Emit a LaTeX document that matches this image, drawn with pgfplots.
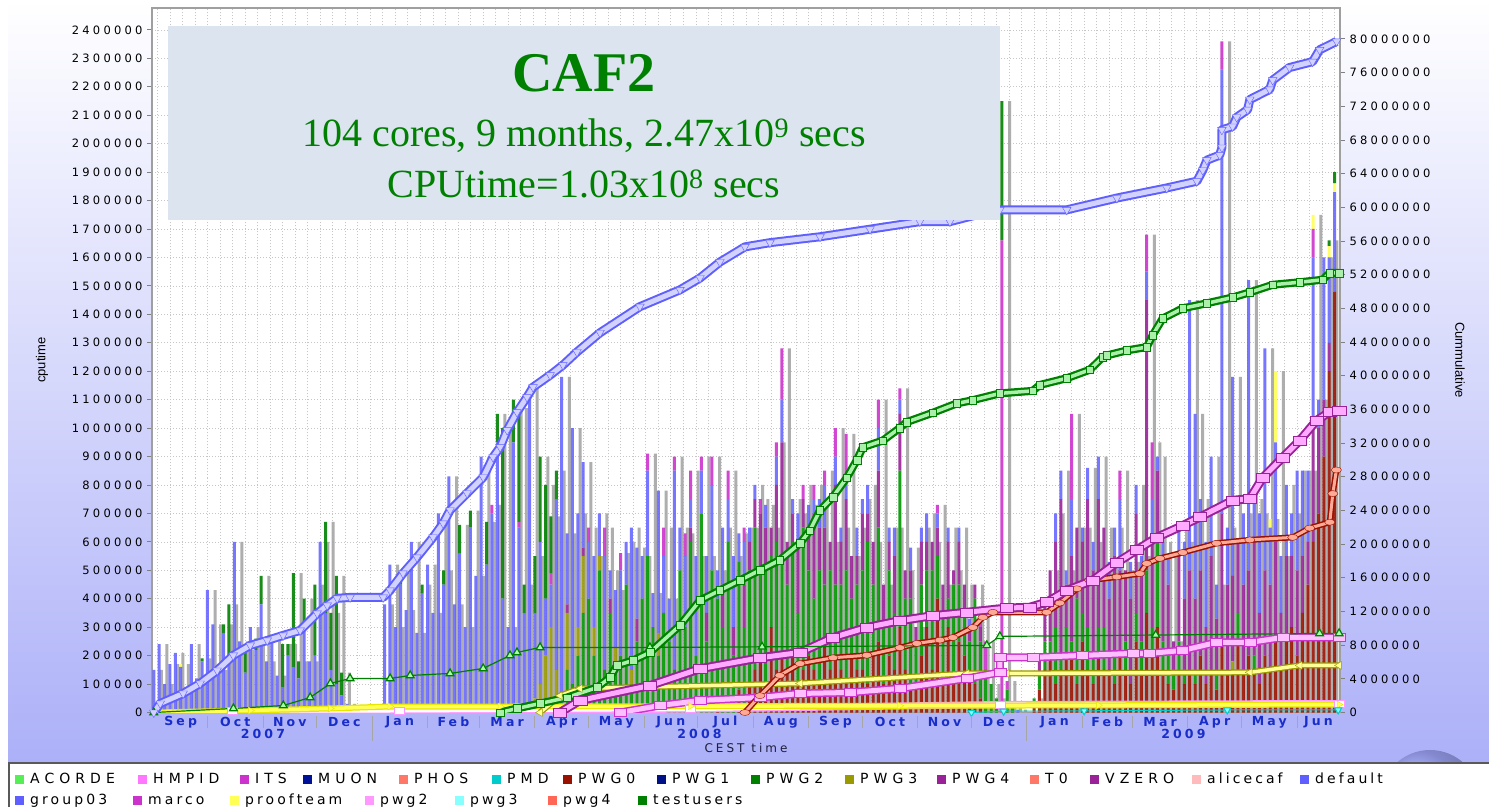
\documentclass[border=0pt]{standalone}
\usepackage{fontspec}
\setmainfont{DejaVu Sans}
\usepackage{pgfplots}
\usepackage{pgfplotstable}
\pgfplotsset{compat=1.18}
\newfontfamily\tickf[LetterSpace=28]{DejaVu Sans}
\newfontfamily\monthf[LetterSpace=25]{DejaVu Sans}
\newfontfamily\legfC[LetterSpace=36]{DejaVu Sans}
\newfontfamily\legfL[LetterSpace=22]{DejaVu Sans}
\newfontfamily\labf{Liberation Sans}
\newfontfamily\boxf{Liberation Serif}

\definecolor{cB}{RGB}{95,95,255}
\definecolor{cR}{RGB}{153,17,0}
\definecolor{cG}{RGB}{0,150,0}
\definecolor{cT}{RGB}{0,128,0}
\definecolor{cO}{RGB}{153,153,0}
\definecolor{cP}{RGB}{153,34,153}
\definecolor{cM}{RGB}{204,51,204}
\definecolor{cY}{RGB}{255,255,85}
\definecolor{cYd}{RGB}{230,230,0}
\definecolor{cPink}{RGB}{255,153,255}
\definecolor{cACO}{RGB}{85,238,85}
\definecolor{cHMP}{RGB}{255,119,255}
\definecolor{cMUO}{RGB}{0,17,153}
\definecolor{cPHO}{RGB}{255,119,102}
\definecolor{cPMD}{RGB}{0,204,204}
\definecolor{cPW1}{RGB}{0,17,136}
\definecolor{cALI}{RGB}{255,187,187}
\definecolor{cCy}{RGB}{136,255,255}
\definecolor{cPw4}{RGB}{255,102,85}
\definecolor{mblue}{RGB}{25,45,200}
\definecolor{boxc}{RGB}{220,228,240}
\definecolor{tgreen}{RGB}{0,128,0}
\definecolor{fB}{RGB}{210,210,255}
\definecolor{fG}{RGB}{170,240,170}
\definecolor{fT}{RGB}{170,255,170}
\definecolor{fP}{RGB}{255,170,255}
\definecolor{fM}{RGB}{255,190,255}
\definecolor{fR}{RGB}{255,170,150}
\definecolor{fO}{RGB}{255,255,150}

% ribbon: outline colour, inner colour, outer width, inner width, table
\newcommand\ribbon[5]{%
  \addplot[draw=#1, line width=#3, line join=round, no marks] table {#5};
  \addplot[draw=#2, line width=#4, line join=round, no marks] table {#5};}

% bars: day since 1 Sep 2007, cputime in thousands of seconds
\pgfplotstableread{
d r g o p b m y t
0 0 0 0 0 150 0 0 0
3 0 0 0 0 240 0 0 0
6 0 0 0 0 100 0 0 0
9 0 0 0 0 170 0 0 0
12 0 0 0 0 210 0 0 0
15 0 0 0 0 160 0 10 0
18 0 0 0 0 90 0 0 0
21 0 0 0 0 240 0 0 0
24 0 0 0 0 120 0 0 0
27 0 0 0 0 180 0 0 10
30 0 0 0 0 430 0 0 0
33 0 0 0 0 310 0 0 0
36 0 0 0 0 150 0 0 0
39 0 0 0 0 280 0 0 30
42 0 0 0 0 200 0 0 180
45 0 0 0 0 600 0 0 0
48 0 0 0 0 250 0 0 0
51 0 0 0 0 140 0 0 80
54 0 0 0 0 300 0 0 0
57 0 0 0 0 220 0 0 40
60 0 0 0 0 380 0 0 100
63 0 0 0 0 180 0 0 0
66 0 0 0 0 250 0 0 20
69 0 0 0 0 130 0 0 0
72 0 0 0 0 90 0 0 150
75 0 0 0 0 200 0 0 40
78 0 0 0 0 160 0 0 330
81 0 0 0 0 120 0 0 60
84 0 0 0 0 300 0 0 100
87 0 0 0 0 180 0 0 0
90 0 0 0 0 200 0 0 250
93 0 0 0 0 600 0 0 0
96 0 0 0 0 350 0 0 320
99 0 0 0 0 150 0 0 200
102 0 0 0 0 100 0 0 380
105 0 0 0 0 60 0 0 80
108 0 0 0 0 30 0 0 0
111 0 0 0 0 10 0 0 0
114 0 0 0 0 0 0 0 0
117 0 0 0 0 0 0 0 0
120 0 0 0 0 0 0 0 0
123 0 0 0 0 0 0 0 0
126 0 0 0 0 20 0 0 0
129 0 0 0 0 380 0 0 0
132 0 0 0 0 520 0 0 0
135 0 0 0 0 300 0 0 0
138 0 0 0 0 450 0 0 40
141 0 0 0 0 360 0 0 0
144 0 0 0 0 600 0 0 0
147 0 0 0 0 280 0 0 0
150 0 0 0 0 420 0 0 30
153 0 0 0 0 520 0 0 0
156 0 0 0 0 350 0 0 0
159 0 0 0 0 700 0 0 0
162 0 0 0 0 450 0 0 50
165 0 0 0 0 830 0 0 0
168 0 0 0 0 380 0 0 0
171 0 0 0 0 560 0 0 100
174 0 0 0 0 300 0 0 0
177 0 0 0 0 650 0 0 60
180 0 0 0 0 480 0 0 0
183 0 0 0 0 900 0 0 0
186 0 0 0 0 520 0 0 150
189 0 0 0 0 700 30 0 0
192 0 0 0 0 950 0 0 100
195 0 0 0 0 400 0 0 600
198 0 0 0 0 300 0 0 0
201 0 0 0 0 950 0 0 150
204 0 0 0 0 650 20 0 400
207 0 0 0 0 350 0 0 100
210 0 0 0 0 1150 0 0 0
213 0 0 50 0 300 0 0 200
216 0 0 100 0 500 0 0 300
219 0 0 200 0 200 0 0 400
222 0 0 300 0 150 40 0 200
225 0 0 150 0 600 0 0 100
228 0 0 0 0 1180 0 0 0
231 0 150 200 30 250 0 0 0
234 0 100 0 0 900 0 0 0
237 0 200 100 0 400 0 0 0
240 0 350 200 30 300 0 0 0
243 0 400 0 0 200 50 0 0
246 0 200 100 0 250 0 0 0
249 0 500 50 0 150 0 0 0
252 0 150 0 0 400 100 0 0
255 0 350 0 50 100 0 0 0
258 0 150 80 0 200 0 0 0
261 0 200 0 0 300 60 0 0
264 0 450 0 0 150 0 0 0
267 0 100 50 0 500 0 0 0
270 0 250 0 80 250 0 0 0
273 0 400 0 0 150 0 0 0
276 0 550 0 0 300 60 0 0
279 0 300 0 0 120 0 0 0
282 0 200 80 0 500 0 0 0
285 0 350 0 0 200 100 0 0
288 0 250 0 0 150 0 0 0
291 0 150 0 0 700 50 0 0
294 0 500 0 0 150 0 0 0
297 0 300 0 0 250 80 0 0
300 0 600 0 50 100 100 0 0
303 0 200 0 0 350 0 0 0
306 0 700 0 0 150 50 0 0
309 0 250 0 100 200 0 0 0
312 0 500 0 0 300 100 0 0
315 50 350 0 0 100 0 0 0
318 0 300 0 150 200 0 0 0
321 0 600 0 0 150 100 0 0
324 0 200 0 100 250 0 0 0
327 80 450 0 0 100 0 0 0
330 0 300 0 150 150 50 0 0
333 100 400 0 100 50 0 0 0
336 150 500 0 100 50 0 0 0
339 200 300 0 200 0 50 0 0
342 100 400 0 150 80 0 0 0
345 300 250 0 100 0 0 0 0
348 150 450 0 200 100 50 0 0
351 200 350 0 400 150 180 0 0
354 150 300 0 150 0 0 0 0
357 200 400 0 100 50 0 0 0
360 100 250 0 250 100 0 0 0
363 150 500 0 100 0 50 0 0
366 200 300 0 150 80 0 0 0
369 150 250 0 300 50 50 0 0
372 100 400 0 150 100 0 0 0
375 250 200 0 200 150 50 0 0
378 150 350 0 100 0 0 0 0
381 200 250 0 350 100 100 0 0
384 150 300 0 150 50 0 0 0
387 100 400 0 250 80 150 0 0
390 200 200 0 150 0 0 0 0
393 150 300 0 100 100 0 0 0
396 150 350 0 200 50 0 0 0
399 100 500 0 100 100 0 0 0
402 200 250 0 150 0 0 0 0
405 250 400 0 200 150 100 0 0
408 100 200 0 150 0 0 0 0
411 200 300 0 100 50 0 0 0
414 150 200 0 200 100 0 0 0
417 300 550 0 200 50 40 0 0
420 150 250 0 100 0 0 0 0
423 100 300 0 100 80 0 0 0
426 100 150 0 50 0 0 0 0
429 200 250 0 150 50 0 0 0
432 300 200 0 100 100 0 0 0
435 150 350 0 100 0 0 0 0
438 400 150 0 100 50 30 0 0
441 100 250 0 100 0 0 0 0
444 300 100 0 200 50 0 0 0
447 100 350 0 50 0 0 0 0
450 250 200 0 150 50 0 0 0
453 200 150 0 100 0 0 0 0
456 150 100 0 50 30 0 0 0
459 100 300 0 50 0 0 0 0
462 50 200 0 50 0 50 0 0
465 0 150 0 0 0 100 0 0
468 0 100 0 0 0 0 0 0
471 0 50 0 0 0 0 0 0
474 0 0 0 0 0 1660 0 490
477 0 80 0 0 0 30 0 0
480 0 20 0 0 0 0 0 0
483 0 0 0 0 10 0 0 0
486 0 0 0 0 0 0 0 0
489 0 0 0 0 0 0 0 0
492 20 30 0 0 0 0 0 0
495 80 50 0 70 0 0 0 0
498 150 100 0 150 0 0 0 0
501 200 50 0 250 0 0 0 0
504 100 200 0 300 100 0 0 0
507 150 50 0 550 100 0 0 0
510 200 100 0 150 50 0 0 0
513 200 50 0 300 200 300 0 0
516 100 300 0 250 0 0 0 0
519 250 100 0 250 50 0 0 0
522 150 150 0 450 110 0 0 0
525 100 100 0 300 100 0 0 0
528 200 100 0 450 150 0 0 0
531 150 150 0 350 0 0 0 0
534 150 0 0 250 130 0 0 0
537 100 100 0 350 100 0 0 0
540 200 0 0 300 250 100 0 0
543 150 100 0 250 0 0 0 0
546 100 0 0 300 130 0 0 0
549 250 100 0 350 100 0 0 0
552 150 100 0 250 50 0 0 0
555 350 150 0 950 100 130 0 0
558 200 100 0 300 150 200 0 0
561 300 300 0 250 50 0 0 0
564 150 100 0 300 50 0 0 0
567 100 100 0 250 100 0 0 0
570 80 50 0 120 0 0 0 0
573 150 100 0 300 100 0 0 0
576 100 50 0 250 200 0 0 0
579 150 0 0 350 950 0 0 0
582 100 50 0 250 650 0 0 0
585 200 0 0 300 250 0 0 0
588 100 0 0 200 300 0 0 0
591 150 0 0 400 350 0 0 0
594 80 50 0 200 120 0 0 0
597 250 0 0 450 1560 100 0 0
600 150 0 0 300 200 0 0 0
603 150 0 30 300 700 0 0 0
606 250 100 0 250 0 0 0 0
609 150 0 0 300 250 0 0 0
612 200 0 0 300 1020 0 0 0
615 150 50 0 400 150 0 0 0
618 100 0 0 250 350 0 0 0
621 200 0 0 300 780 0 0 0
624 150 0 0 300 200 0 30 0
627 250 0 0 350 350 0 250 0
630 150 0 0 200 200 0 0 0
633 250 0 0 300 250 0 0 0
636 300 0 0 250 150 0 0 0
639 200 0 0 300 350 0 0 0
642 350 0 0 200 300 0 0 0
645 450 0 0 150 250 0 0 0
648 600 0 0 400 600 100 50 0
651 700 0 0 300 100 0 0 0
654 900 0 0 200 500 0 0 0
657 1200 0 0 100 300 0 40 20
660 1480 0 0 0 350 0 30 40
}\bars
\pgfplotstablecreatecol[expr={\thisrow{r}+\thisrow{g}+\thisrow{o}+\thisrow{p}+\thisrow{b}+\thisrow{m}+\thisrow{y}+\thisrow{t}}]{tot}\bars

% cumulative series: day, millions of seconds
\pgfplotstableread{
x y
0 0
3.6 1.07
16.4 2.26
25.9 3.45
35.4 4.99
44.4 6.78
53.9 7.97
63.4 8.56
72.3 9.16
81.8 9.75
91.3 11.77
96.9 12.72
102.5 13.56
109.7 13.67
128.2 13.67
132.1 14.51
139.3 16.53
147.1 18.43
156.1 20.81
161.7 22.47
165.6 24.02
175.1 26.04
184.1 27.94
189.6 30.32
193.6 31.51
197.5 33.53
203.0 35.67
208.6 37.46
212.0 38.64
221.5 40.07
228.7 41.26
236.5 42.81
249.4 45.1
271.7 48.2
294.1 50.2
305.3 51.6
316.4 53.5
330.4 55.3
344.4 55.8
372.4 56.5
400.3 57.4
428.2 58.3
445 58.3
467.2 59.5
472.9 59.7
510.3 59.7
538.3 61.1
566.2 62.3
583 63.1
586.3 64.4
588.6 65.6
595.8 66.2
597 67.1
597 69.2
603 69.6
605.3 70.7
611.4 71.6
612.6 72.8
623.7 74.0
625.4 75.1
634.8 76.6
647.7 77.3
651.6 78.7
661.1 79.7
}\cumB
\pgfplotstableread{
x y
193.6 0
203 0.48
215.9 1.07
231 1.78
247.8 2.97
255 4.16
258.9 5.59
267.8 6.18
277.3 7.13
294.1 10.34
305.3 13.32
316.4 14.5
327.6 15.7
338.8 16.9
349.9 18.1
361.2 20.1
366.7 21.6
372.3 24.0
379.6 25.6
387.4 27.9
393 30.0
396.3 31.5
407.5 32.3
417 33.8
420.9 34.5
435.4 35.6
448.8 36.7
457.8 37.1
472.9 37.9
491.3 38.2
495.2 38.9
510.3 39.7
523.1 40.7
530.4 42.2
532.6 42.4
543.8 43.0
555 43.4
558.3 44.8
563.9 46.8
575.1 48.0
588.6 48.6
603.1 49.3
612.6 49.9
625.4 50.8
640.5 51.1
653.3 51.4
657.3 52.2
662.5 52.2
}\cumG
\pgfplotstableread{
x y
0 0
44.5 0.48
72.4 0.83
87.4 1.78
98.7 3.45
109.7 4.04
132.1 4.04
143.3 4.40
165.6 4.64
184.1 5.23
199.1 6.78
203 7.13
215.9 7.73
277.3 7.73
340 7.8
465.6 7.97
472.9 9.04
560 9.2
651.6 9.39
662.5 9.39
}\cumT
\pgfplotstableread{
x y
227 0
238.2 1.43
277.3 3.2
305.3 5.2
338.8 6.5
361.2 7.13
379.6 8.9
398.6 10.1
417 10.9
435.4 11.5
454.4 11.9
476.8 12.4
489.6 12.5
499.1 13.1
510.3 14.5
524.8 15.7
538.3 17.8
549.4 19.3
560.6 20.8
575.1 22.2
584.6 23.2
603.1 25.2
612.6 25.4
619.9 27.9
631.1 30.3
640.5 32.3
650 34.7
657.3 35.7
662.5 35.8
}\cumP
\pgfplotstableread{
x y
330.4 0
338.8 2.0
349.9 4.4
361.2 5.8
379.6 6.5
398.6 6.8
417 7.7
426.5 8.2
439.4 8.6
446.6 8.9
457.8 10.1
463.4 11.3
469 11.9
499.1 11.9
506.4 13.0
515.9 14.7
523.1 15.7
538.3 16.1
551.1 16.5
555 17.7
562.3 18.3
575.1 19.0
594 20.1
612.6 20.5
636.6 20.8
646.1 21.9
657.3 22.6
659 26
661 28.8
}\cumR
\pgfplotstableread{
x y
260.6 0
283 0.83
305.3 1.43
338.8 1.78
361.2 2.26
389.1 2.38
417 2.85
454.4 4.04
472.9 4.76
473 6.54
491.3 6.54
519.2 6.78
547.2 7.02
556.6 7.02
575 7.37
594 8.32
612.6 8.32
631.1 8.92
662.5 8.92
}\cumM
\pgfplotstableread{
x y
215.9 0
227 2.0
238.2 2.85
361.2 3.45
454.4 4.64
476.8 4.64
612.6 4.76
640.5 5.59
662.5 5.59
}\cumO
\pgfplotstableread{
x y
0 0
54 0.24
98.7 0.48
132 0.71
193.6 0.71
300 0.75
417 0.8
528 0.85
662.5 0.95
}\cumY
\pgfplotstableread{
x y
44 0.2
137 0.24
300 0.4
473 0.95
662.5 1.07
}\cumK
\pgfplotstableread{
x y
457 0
475 0.15
520 0.2
600 0.3
662 0.3
}\cumC

\pgfplotsset{base/.style={scale only axis, width=1188pt, height=704.5pt,
  at={(152pt,94.5pt)}, anchor=south west, xmin=-1, xmax=663}}

\begin{document}
\begin{tikzpicture}[x=1pt,y=1pt]
\useasboundingbox (0,0) rectangle (1489,807);
\fill[white] (0,0) rectangle (1489,807);
\shade[top color=white, bottom color={rgb,255:red,172;green,176;blue,248}] (8,44) rectangle (1489,807);
\begin{scope}
\clip (1370,44) rectangle (1489,80);
\shade[ball color={rgb,255:red,120;green,130;blue,230}, opacity=0.45] (1430,7) circle (50);
\end{scope}

% axis A: frame, grid, left ticks, shadows
\begin{axis}[base, ymin=0, ymax=2477,
  axis background/.style={fill=white},
  xtick={2,9,...,660}, xticklabels={}, xtick style={draw=none},
  ytick={0,100,...,2400},
  yticklabels={0,100000,200000,300000,400000,500000,600000,700000,800000,900000,1000000,1100000,1200000,1300000,1400000,1500000,1600000,1700000,1800000,1900000,2000000,2100000,2200000,2300000,2400000},
  ytick pos=left, tick align=outside, major tick length=5pt,
  ytick style={gray, line width=0.8pt},
  yticklabel style={font=\tickf\fontsize{11.5}{12}\selectfont, text=black, xshift=-1pt},
  grid=major, major grid style={gray!45, dash pattern=on 1pt off 2pt, line width=0.7pt},
  axis line style={gray!75, line width=1.4pt}]
\addplot[ybar, bar width=3pt, fill=gray!70, draw=none, fill opacity=0.9] table[x expr=\thisrow{d}+4.3, y=tot] {\bars};
\end{axis}

% axis B: stacked bars
\begin{axis}[base, ymin=0, ymax=2477, hide axis, ybar stacked, bar width=3pt]
\addplot[fill=cR, draw=none, fill opacity=0.9] table[x=d, y=r] {\bars};
\addplot[fill=cG, draw=none, fill opacity=0.9] table[x=d, y=g] {\bars};
\addplot[fill=cO, draw=none, fill opacity=0.9] table[x=d, y=o] {\bars};
\addplot[fill=cP, draw=none, fill opacity=0.9] table[x=d, y=p] {\bars};
\addplot[fill=cB, draw=none, fill opacity=0.85] table[x=d, y=b] {\bars};
\addplot[fill=cM, draw=none, fill opacity=0.9] table[x=d, y=m] {\bars};
\addplot[fill=cY, draw=none, fill opacity=0.9] table[x=d, y=y] {\bars};
\addplot[fill=cT, draw=none, fill opacity=0.9] table[x=d, y=t] {\bars};
\end{axis}

% axis C: cumulative, right axis
\begin{axis}[base, ymin=0, ymax=83.67, axis x line=none, axis y line*=right,
  ytick={0,4,...,80},
  yticklabels={0,4000000,8000000,12000000,16000000,20000000,24000000,28000000,32000000,36000000,40000000,44000000,48000000,52000000,56000000,60000000,64000000,68000000,72000000,76000000,80000000},
  tick align=outside, major tick length=5pt,
  ytick style={gray, line width=0.8pt},
  yticklabel style={font=\tickf\fontsize{11.5}{12}\selectfont, text=black, anchor=west, xshift=1pt},
  axis line style={gray!75, line width=1.4pt}]
% pwg2
\ribbon{cPink}{white}{7pt}{4pt}{\cumK}
\addplot[only marks, mark=square*, mark size=3.5pt, mark options={fill=white, draw=cPink, xscale=1.4}] table {\cumK};
% proofteam
\ribbon{cYd}{cY}{6pt}{3.5pt}{\cumY}
\addplot[only marks, mark=triangle*, mark size=4pt, mark options={rotate=-90, fill=cY, draw=cYd}] table {\cumY};
% pwg3
\addplot[color=cPMD, line width=1pt, mark=triangle*, mark size=4pt, mark options={rotate=180, fill=cCy, draw=cPMD}] table {\cumC};
% PWG3
\ribbon{cO}{fO}{6pt}{3.5pt}{\cumO}
\addplot[only marks, mark=triangle*, mark size=4.5pt, mark options={rotate=90, fill=fO, draw=cO}] table {\cumO};
% marco
\ribbon{cM}{fM}{8pt}{5pt}{\cumM}
\addplot[only marks, mark=square*, mark size=4pt, mark options={fill=fM, draw=cM, xscale=1.5}] table {\cumM};
% PWG0
\ribbon{cR}{fR}{6pt}{3pt}{\cumR}
\addplot[only marks, mark=*, mark size=3pt, mark options={fill=fR, draw=cR, xscale=1.7}] table {\cumR};
% PWG4
\ribbon{cP}{fP}{9pt}{5pt}{\cumP}
\addplot[only marks, mark=square*, mark size=4.5pt, mark options={fill=fP, draw=cP, xscale=1.5}] table {\cumP};
% testusers
\addplot[color=cT, line width=1.2pt, mark=triangle*, mark size=4.5pt, mark options={fill=fT, draw=cT}] table {\cumT};
% PWG2
\ribbon{cT}{fG}{8pt}{3.5pt}{\cumG}
\addplot[only marks, mark=square*, mark size=3.8pt, mark options={fill=fG, draw=cT}] table {\cumG};
% default
\ribbon{cB}{fB}{9pt}{5pt}{\cumB}
\addplot[only marks, mark=triangle*, mark size=5pt, mark options={rotate=180, fill=fB, draw=cB}] table {\cumB};
\end{axis}

% x axis labels
\foreach \d/\m in {15/Sep,45.5/Oct,76/Nov,106.5/Dec,137.5/Jan,167.5/Feb,197.5/Mar,228/Apr,258.5/May,289/Jun,319.5/Jul,350.5/Aug,381/Sep,411.5/Oct,442/Nov,472.5/Dec,503.5/Jan,533/Feb,562.5/Mar,593/Apr,623.5/May,651/Jun}
  \node[text=mblue, font=\monthf\bfseries\fontsize{12.5}{12.5}\selectfont, inner sep=0pt] at ({153.79+1.789*\d},85) {\m};
\foreach \d/\yy in {61/2007,305/2008,575.5/2009}
  \node[text=mblue, font=\monthf\bfseries\fontsize{12.5}{12.5}\selectfont, inner sep=0pt] at ({153.79+1.789*\d},73.5) {\yy};
\foreach \d in {30,61,91,153,182,213,243,274,304,335,366,396,427,457,519,547,578,608,639}
  \draw[gray!70, line width=0.8pt] ({153.79+1.789*\d},91) -- ++(0,-12);
\foreach \d in {122,488}
  \draw[gray!70, line width=0.8pt] ({153.79+1.789*\d},91) -- ++(0,-25);
\node[font=\monthf\fontsize{12}{12}\selectfont, text={rgb,255:red,30;green,30;blue,60}, inner sep=0pt] at (746,59) {CEST time};

% axis titles
\node[font=\labf\fontsize{13}{13}\selectfont, rotate=90, inner sep=0pt] at (42,447) {cputime};
\node[font=\labf\fontsize{13}{13}\selectfont, rotate=-90, inner sep=0pt] at (1460,447) {Cummulative};

% legend box
\fill[white] (8,0) rectangle (1489,44);
\draw[gray!70!black, line width=2pt] (9,0) -- (9,44) -- (1489,44);
\foreach \sx/\nm/\cc in {15/ACORDE/cACO,138/HMPID/cHMP,240/ITS/cM,303/MUON/cMUO,399/PHOS/cPHO,492/PMD/cPMD,563/PWG0/cR,657/PWG1/cPW1,751/PWG2/cT,845/PWG3/cO,937/PWG4/cP,1030/T0/cPHO,1090/VZERO/cP}{
  \fill[\cc] (\sx,23.5) rectangle ++(9,9);
  \node[anchor=base west, inner sep=0pt, font=\legfC\fontsize{14}{14}\selectfont] at (\sx+15,23.3) {\nm};
}
\foreach \sx/\nm/\cc in {1192/alicecaf/cALI,1300/default/cB}{
  \fill[\cc] (\sx,23.5) rectangle ++(9,9);
  \node[anchor=base west, inner sep=0pt, font=\legfL\fontsize{14}{14}\selectfont] at (\sx+15,23.3) {\nm};
}
\foreach \sx/\nm/\cc in {15/group03/cB,133/marco/cM,230/proofteam/cY,365/pwg2/cPink,455/pwg3/cCy,548/pwg4/cPw4,638/testusers/cT}{
  \fill[\cc] (\sx,2.5) rectangle ++(9,9);
  \node[anchor=base west, inner sep=0pt, font=\legfL\fontsize{14}{14}\selectfont] at (\sx+15,2.3) {\nm};
}

% title box
\fill[boxc] (168,587) rectangle (1000,781);
\node[anchor=base, inner sep=0pt, text=tgreen, font=\boxf\bfseries\fontsize{56}{56}\selectfont] at (584,715) {CAF2};
\node[anchor=base, inner sep=0pt, text=tgreen, font=\boxf\fontsize{40}{40}\selectfont] at (584,660) {104 cores, 9 months, 2.47x10\textsuperscript{9} secs};
\node[anchor=base, inner sep=0pt, text=tgreen, font=\boxf\fontsize{40}{40}\selectfont] at (584,609) {CPUtime=1.03x10\textsuperscript{8} secs};
\end{tikzpicture}
\end{document}
